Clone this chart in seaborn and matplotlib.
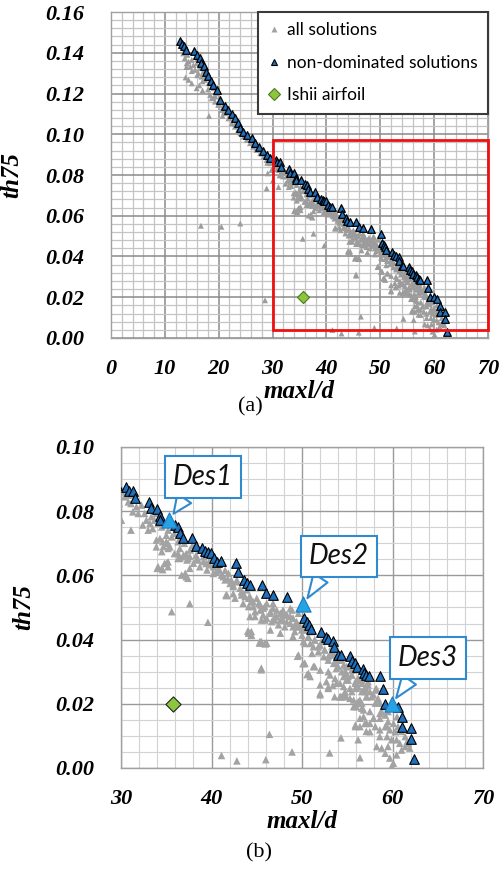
import matplotlib
matplotlib.use("Agg")
import matplotlib.pyplot as plt
import seaborn as sns
import pandas as pd
from matplotlib.lines import Line2D
from matplotlib.patches import Rectangle
from matplotlib.ticker import MultipleLocator, FormatStrFormatter
from matplotlib.font_manager import FontProperties

# ---------------- data ----------------
all_x = [
    13.4, 13.7, 14.05, 14.4, 15.0, 14.7, 15.3, 13.85, 15.6, 15.9, 16.2, 16.5, 16.8, 17.1, 17.45,
    17.8, 18.1, 18.4, 18.7, 18.2, 19.0, 19.3, 19.6, 19.9, 20.2, 20.5, 20.85, 21.2, 21.5, 21.8,
    22.1, 22.4, 22.7, 23.0, 23.3, 23.6, 24.0, 24.3, 24.6, 24.9, 25.2, 25.5, 25.8, 26.1, 26.4,
    26.7, 27.0, 27.35, 27.7, 28.0, 28.3, 28.6, 28.9, 29.2, 29.5, 29.8,
    14.4, 15.0, 15.9, 16.4, 17.0, 13.6, 14.2, 16.0, 17.5, 19.4, 20.7,
    14.0, 15.0, 16.0, 17.0, 18.0, 19.0, 20.0, 21.0, 22.0, 23.0, 24.0, 25.0, 26.0, 27.0, 28.0, 29.0,
    16.7, 20.5, 24.0, 28.6, 28.9, 29.1,
    # 30-44
    30.04, 30.1, 30.5, 30.4, 31.0, 30.8, 31.1, 31.1, 31.3, 31.7, 31.9, 32.25, 32.6, 32.4, 32.8,
    33.2, 33.0, 33.35, 33.7, 33.5, 33.9, 34.1, 34.5, 34.3, 33.9, 34.6, 35.0, 35.0, 35.2, 35.4,
    35.6, 35.9, 36.1, 36.3, 36.5, 35.9, 36.7, 37.0, 37.2, 37.4, 37.6, 37.9, 38.3, 38.5, 38.9,
    39.1, 39.4, 39.8, 40.2, 40.5, 40.9, 41.3, 41.5, 41.8, 42.2, 42.4, 42.75,
    33.9, 35.2, 34.5, 34.1, 34.8, 35.2, 36.3, 36.85, 37.2, 37.6, 36.7, 34.0, 34.6, 35.2,
    35.6, 37.6, 39.6, 41.6, 41.65, 42.4, 44.0, 44.4, 45.3, 45.95, 45.5,
    34.68, 35.2, 34.5, 35.0, 36.3, 36.5, 36.9, 37.3, 37.6, 38.0, 38.4, 38.7, 39.1, 39.5, 39.8,
    40.2, 40.75, 41.1, 41.5, 41.86, 42.05, 42.4, 42.8, 43.15, 43.5, 43.9, 44.25, 44.6, 45.0, 45.4,
    45.7, 46.1, 46.5, 46.8, 47.2, 47.6, 47.9, 48.3, 48.7, 49.0, 49.4,
    37.4, 37.1, 41.7, 42.6, 43.3, 44.1, 44.8, 45.4, 45.9, 44.25, 44.4, 46.5, 47.0, 47.6, 44.1,
    45.5, 46.1, 49.0,
    # 43-57
    43.3, 43.7, 43.5, 44.1, 44.4, 44.6, 44.8, 45.2, 45.4, 45.7, 45.5, 45.9, 46.1, 46.5, 46.8,
    46.65, 47.0, 47.2, 47.4, 47.6, 47.9, 48.1, 48.3, 48.7, 48.9, 49.0, 49.2, 49.4, 49.8, 50.0,
    50.15, 50.3, 50.7, 50.9, 51.25, 51.4, 51.8, 52.0, 52.4, 52.5, 52.9, 53.1, 53.5, 53.8, 54.0,
    54.4, 54.6, 54.9, 55.1, 55.5, 55.9, 56.0, 56.4, 56.6, 57.0, 57.15,
    44.1, 44.4, 45.35, 45.9, 45.5, 49.6, 50.3, 50.7, 51.4, 52.0, 52.9, 53.1, 53.6, 54.2, 54.75,
    55.7, 56.0, 56.6, 53.8, 54.6, 55.3, 49.5, 50.1, 50.55, 52.0, 52.9, 53.4,
    47.9, 48.3, 48.7, 49.0, 49.6, 49.4, 49.96, 50.5, 50.7, 51.1, 51.4, 51.8, 52.2, 52.5, 52.9,
    53.3, 53.65, 54.0, 54.4, 54.75, 55.1, 55.5, 55.9, 56.2, 56.6, 57.0, 57.3, 57.7, 58.1, 58.4,
    50.3, 51.25, 52.0, 52.7, 52.0, 52.9, 53.65, 54.2, 54.9, 54.4, 55.5, 56.0, 56.8, 56.4, 55.9,
    57.15, 57.5, 57.9, 58.6, 59.4, 60.3, 50.3, 51.1, 50.9, 54.9, 56.4,
    # 53-62
    53.3, 53.6, 54.2, 54.6, 55.1, 54.9, 55.5, 55.85, 56.2, 56.6, 56.0, 57.0, 57.3, 57.5, 57.9,
    57.1, 58.2, 58.4, 58.6, 58.1, 59.0, 58.8, 59.2, 59.5, 54.2, 54.75, 55.3, 55.7, 56.2, 56.6,
    56.8, 57.5, 55.9, 56.4, 56.95, 57.5, 57.9, 58.1, 58.6, 59.2, 59.5, 59.7, 60.1, 60.5, 60.6,
    61.0, 61.4, 61.6, 60.8, 60.45, 59.9, 59.4, 58.6, 58.25, 58.8, 59.2, 59.5, 59.7, 60.1, 59.9,
    60.45, 61.0, 61.4, 61.9, 61.75, 58.6, 57.1, 56.2,
    # bottom outliers
    41.1, 42.8, 46.0, 46.4, 48.9, 53.05, 54.3, 56.4,
]
all_y = [
    0.1397, 0.1373, 0.1348, 0.1357, 0.1365, 0.1332, 0.1340, 0.1279, 0.1316, 0.1348, 0.1300, 0.1324, 0.1283, 0.1307, 0.1267,
    0.1291, 0.1250, 0.1193, 0.1177, 0.1090, 0.1226, 0.1160, 0.1201, 0.1144, 0.1168, 0.1119, 0.1144, 0.1103, 0.1119, 0.1078,
    0.1095, 0.1054, 0.1070, 0.1037, 0.1054, 0.1021, 0.1005, 0.1029, 0.0988, 0.1005, 0.0972, 0.0988, 0.0956, 0.0972, 0.0939,
    0.0948, 0.0923, 0.0931, 0.0907, 0.0915, 0.0890, 0.0898, 0.0874, 0.0882, 0.0858, 0.0825,
    0.1267, 0.1250, 0.1226, 0.1240, 0.1215, 0.1410, 0.1390, 0.1370, 0.1320, 0.1185, 0.1090,
    0.1330, 0.1310, 0.1290, 0.1260, 0.1220, 0.1180, 0.1150, 0.1110, 0.1080, 0.1050, 0.1020, 0.0990, 0.0960, 0.0935, 0.0905, 0.0860,
    0.0551, 0.0546, 0.0562, 0.0185, 0.0734, 0.0808,
    # 30-44
    0.0772, 0.0866, 0.0861, 0.0845, 0.0850, 0.0829, 0.0824, 0.0741, 0.0798, 0.0814, 0.0793, 0.0819, 0.0793, 0.0757, 0.0772,
    0.0762, 0.0741, 0.0783, 0.0772, 0.0746, 0.0793, 0.0762, 0.0751, 0.0715, 0.0710, 0.0705, 0.0725, 0.0705, 0.0741, 0.0689,
    0.0720, 0.0731, 0.0746, 0.0705, 0.0684, 0.0668, 0.0720, 0.0700, 0.0668, 0.0653, 0.0679, 0.0694, 0.0663, 0.0648, 0.0684,
    0.0658, 0.0637, 0.0648, 0.0627, 0.0611, 0.0616, 0.0596, 0.0616, 0.0590, 0.0585, 0.0570, 0.0580,
    0.0689, 0.0684, 0.0674, 0.0627, 0.0637, 0.0642, 0.0653, 0.0658, 0.0596, 0.0622, 0.0601, 0.0622, 0.0618, 0.0627,
    0.0487, 0.0512, 0.0454, 0.0539, 0.0537, 0.0543, 0.0426, 0.0413, 0.0389, 0.0387, 0.0306,
    0.0690, 0.0700, 0.0622, 0.0638, 0.0669, 0.0653, 0.0664, 0.0648, 0.0659, 0.0638, 0.0653, 0.0627, 0.0643, 0.0617, 0.0633,
    0.0606, 0.0622, 0.0601, 0.0586, 0.0607, 0.0575, 0.0565, 0.0586, 0.0560, 0.0544, 0.0555, 0.0534, 0.0518, 0.0529, 0.0508,
    0.0498, 0.0513, 0.0487, 0.0498, 0.0472, 0.0482, 0.0461, 0.0477, 0.0451, 0.0467, 0.0440,
    0.0591, 0.0607, 0.0539, 0.0529, 0.0539, 0.0503, 0.0472, 0.0493, 0.0461, 0.0472, 0.0425, 0.0430, 0.0461, 0.0420, 0.0425,
    0.0394, 0.0389, 0.0410,
    # 43-57
    0.0549, 0.0534, 0.0513, 0.0529, 0.0518, 0.0503, 0.0487, 0.0513, 0.0492, 0.0477, 0.0461, 0.0503, 0.0467, 0.0482, 0.0513,
    0.0456, 0.0472, 0.0492, 0.0446, 0.0461, 0.0477, 0.0440, 0.0456, 0.0472, 0.0492, 0.0440, 0.0425, 0.0456, 0.0440, 0.0414,
    0.0394, 0.0430, 0.0409, 0.0388, 0.0378, 0.0399, 0.0362, 0.0383, 0.0347, 0.0368, 0.0336, 0.0352, 0.0326, 0.0311, 0.0336,
    0.0300, 0.0285, 0.0316, 0.0274, 0.0290, 0.0264, 0.0248, 0.0274, 0.0238, 0.0254, 0.0222,
    0.0420, 0.0414, 0.0394, 0.0388, 0.0311, 0.0352, 0.0326, 0.0295, 0.0316, 0.0233, 0.0248, 0.0290, 0.0222, 0.0222, 0.0238,
    0.0212, 0.0191, 0.0202, 0.0264, 0.0254, 0.0248, 0.0348, 0.0325, 0.0291, 0.0228, 0.0252, 0.0257,
    0.0492, 0.0477, 0.0497, 0.0466, 0.0482, 0.0451, 0.0430, 0.0446, 0.0409, 0.0425, 0.0399, 0.0378, 0.0394, 0.0368, 0.0347,
    0.0357, 0.0331, 0.0316, 0.0337, 0.0300, 0.0285, 0.0305, 0.0269, 0.0253, 0.0274, 0.0238, 0.0259, 0.0222, 0.0243, 0.0212,
    0.0326, 0.0316, 0.0305, 0.0269, 0.0259, 0.0300, 0.0279, 0.0264, 0.0222, 0.0222, 0.0238, 0.0201, 0.0181, 0.0155, 0.0129,
    0.0139, 0.0113, 0.0155, 0.0170, 0.0129, 0.0113, 0.0388, 0.0357, 0.0285, 0.0274, 0.0212,
    # 53-62
    0.0378, 0.0352, 0.0337, 0.0321, 0.0316, 0.0295, 0.0290, 0.0306, 0.0280, 0.0264, 0.0254, 0.0248, 0.0269, 0.0238, 0.0228,
    0.0222, 0.0248, 0.0217, 0.0202, 0.0202, 0.0191, 0.0176, 0.0165, 0.0176, 0.0222, 0.0228, 0.0217, 0.0191, 0.0207, 0.0186,
    0.0160, 0.0176, 0.0134, 0.0129, 0.0139, 0.0139, 0.0155, 0.0129, 0.0155, 0.0129, 0.0145, 0.0119, 0.0139, 0.0160, 0.0129,
    0.0114, 0.0098, 0.0082, 0.0077, 0.0088, 0.0088, 0.0098, 0.0098, 0.0067, 0.0062, 0.0046, 0.0067, 0.0031, 0.0015, 0.0005,
    0.0041, 0.0056, 0.0067, 0.0062, 0.0077, 0.0119, 0.0114, 0.0088,
    # bottom outliers
    0.0039, 0.0022, 0.0026, 0.0105, 0.0050, 0.0047, 0.0094, 0.0032,
]

nd_x = [
    12.9, 13.1, 13.5, 14.0, 15.5, 15.9, 16.5, 16.8, 17.3, 17.7, 18.1, 18.5, 19.0, 19.7, 20.3,
    21.1, 21.8, 22.4, 23.0, 23.5, 23.9, 24.5, 25.2, 26.1, 26.7, 27.5, 28.3, 28.9, 29.6,
    30.55, 30.85, 31.3, 31.5, 33.1, 33.3, 34.0, 34.3, 34.3, 35.3, 35.95, 36.3, 36.5, 36.9, 37.8,
    38.3, 39.0, 39.3, 39.6, 39.9, 40.3, 40.6, 41.0, 42.75, 42.9, 43.6, 43.9, 44.3, 45.55, 46.05,
    46.8, 48.3, 50.1, 50.25, 50.6, 50.8, 51.0, 52.1, 52.6, 52.9, 53.4, 53.5, 54.0, 54.3, 55.3,
    55.5, 55.8, 56.1, 56.7, 56.8, 57.1, 57.4, 58.6, 58.9, 59.2, 59.9, 60.6, 61.1, 61.1, 62.0,
    62.05, 62.35,
]
nd_y = [
    0.1457, 0.1444, 0.1431, 0.1415, 0.1407, 0.1390, 0.1374, 0.1349, 0.1333, 0.1308, 0.1284, 0.1262, 0.1243, 0.1218, 0.1169,
    0.1139, 0.1120, 0.1098, 0.1079, 0.1054, 0.1030, 0.1013, 0.0997, 0.0980, 0.0956, 0.0939, 0.0920, 0.0898, 0.0882,
    0.0874, 0.0862, 0.0862, 0.0841, 0.0830, 0.0810, 0.0808, 0.0784, 0.0774, 0.0774, 0.0756, 0.0751, 0.0732, 0.0716, 0.0716,
    0.0691, 0.0684, 0.0676, 0.0672, 0.0670, 0.0654, 0.0642, 0.0645, 0.0640, 0.0610, 0.0587, 0.0576, 0.0570, 0.0571, 0.0545,
    0.0538, 0.0534, 0.0511, 0.0467, 0.0455, 0.0446, 0.0432, 0.0423, 0.0408, 0.0401, 0.0397, 0.0377, 0.0353, 0.0351, 0.0348,
    0.0333, 0.0327, 0.0314, 0.0309, 0.0297, 0.0290, 0.0287, 0.0285, 0.0247, 0.0200, 0.0200, 0.0190, 0.0159, 0.0128, 0.0126,
    0.0091, 0.0028,
]

des_labels = ["Des1", "Des2", "Des3"]
des_x = [35.3, 50.1, 59.9]
des_y = [0.0774, 0.0511, 0.0200]

ishii_x = [35.7]
ishii_y = [0.0200]

zoom_x = [30, 70]
zoom_y = [0.004, 0.097]

legend_labels = ["all solutions", "non-dominated solutions", "Ishii airfoil"]

# ---------------- style ----------------
GRAY = "#a3a3a3"
ND_FILL = "#1f70bd"
DES_FILL = "#27a2e4"
DES_EDGE = "#1b7fc4"
GREEN = "#8cc63f"
CALL_EDGE = "#2f8ad0"

plt.rcParams["font.family"] = ["Liberation Serif", "DejaVu Serif"]
plt.rcParams["font.style"] = "italic"
plt.rcParams["font.weight"] = "bold"
plt.rcParams["axes.labelweight"] = "bold"

df_all = pd.DataFrame({"x": all_x, "y": all_y})
df_nd = pd.DataFrame({"x": nd_x, "y": nd_y})
df_des = pd.DataFrame({"x": des_x, "y": des_y, "label": des_labels})
df_ishii = pd.DataFrame({"x": ishii_x, "y": ishii_y})

fig = plt.figure(figsize=(5.03, 8.72), dpi=100)
ax_a = fig.add_axes([0.2207, 0.6124, 0.7495, 0.3738])
ax_b = fig.add_axes([0.2406, 0.1193, 0.7197, 0.3681])


def style_axes(ax, xlim, ylim, yminor, major_c, minor_c, major_lw, minor_lw, ylx):
    ax.set_xlim(*xlim)
    ax.set_ylim(*ylim)
    ax.xaxis.set_major_locator(MultipleLocator(10))
    ax.xaxis.set_minor_locator(MultipleLocator(2))
    ax.yaxis.set_major_locator(MultipleLocator(0.02))
    ax.yaxis.set_minor_locator(MultipleLocator(yminor))
    ax.yaxis.set_major_formatter(FormatStrFormatter("%.2f"))
    ax.xaxis.set_major_formatter(FormatStrFormatter("%d"))
    ax.set_axisbelow(True)
    ax.grid(which="minor", color=minor_c, lw=minor_lw)
    ax.grid(which="major", color=major_c, lw=major_lw)
    ax.tick_params(which="both", length=0)
    ax.tick_params(axis="x", pad=15, labelsize=16)
    ax.tick_params(axis="y", pad=19, labelsize=16)
    for s in ax.spines.values():
        s.set_color("#a0a0a0")
        s.set_linewidth(1.0)
    ax.set_xlabel("maxl/d", fontsize=18, labelpad=1)
    ax.set_ylabel("th75", fontsize=18)
    ax.yaxis.set_label_coords(ylx, 0.5)


# ---- panel (a)
style_axes(ax_a, (0, 70), (0, 0.16), 0.004, "#8a8a8a", "#c4c4c4", 1.1, 0.9, -0.233)
sns.scatterplot(data=df_all, x="x", y="y", ax=ax_a, marker="^", s=18, color="#9c9c9c",
                edgecolor="none", linewidth=0, legend=False, zorder=3)
sns.scatterplot(data=df_nd, x="x", y="y", ax=ax_a, marker="^", s=30, color=ND_FILL,
                edgecolor="black", linewidth=0.9, legend=False, zorder=4)
sns.scatterplot(data=df_ishii, x="x", y="y", ax=ax_a, marker="D", s=38, color=GREEN,
                edgecolor="#4d7a1e", linewidth=0.8, legend=False, zorder=5)
ax_a.add_patch(Rectangle((zoom_x[0], zoom_y[0]), zoom_x[1] - zoom_x[0], zoom_y[1] - zoom_y[0],
                         fill=False, edgecolor="#ee1111", lw=2.0, zorder=6, clip_on=False))

handles = [
    Line2D([], [], ls="none", marker="^", ms=4, color=GRAY, mec="none"),
    Line2D([], [], ls="none", marker="^", ms=5, color=ND_FILL, mec="black", mew=0.8),
    Line2D([], [], ls="none", marker="D", ms=6, color=GREEN, mec="#4d7a1e", mew=0.8),
]
leg = ax_a.legend(handles, legend_labels, loc="upper right", bbox_to_anchor=(1.0, 1.0),
                  borderaxespad=0, frameon=True, fancybox=False, handlelength=0.6,
                  handletextpad=0.45, labelspacing=0.95, borderpad=0.6,
                  prop=FontProperties(family="Lato", style="normal", weight="normal", size=12.5))
leg.get_frame().set_edgecolor("#3a3a3a")
leg.get_frame().set_linewidth(1.5)
leg.get_frame().set_alpha(1)
leg.set_zorder(10)

# ---- panel (b)
style_axes(ax_b, (30, 70), (0, 0.10), 0.005, "#9a9a9a", "#d2d2d2", 1.0, 0.8, -0.238)
sns.scatterplot(data=df_all, x="x", y="y", ax=ax_b, marker="^", s=30, color=GRAY,
                edgecolor="none", linewidth=0, legend=False, zorder=3)
sns.scatterplot(data=df_nd, x="x", y="y", ax=ax_b, marker="^", s=48, color=ND_FILL,
                edgecolor="black", linewidth=0.8, legend=False, zorder=4)
sns.scatterplot(data=df_des, x="x", y="y", ax=ax_b, marker="^", s=120, color=DES_FILL,
                edgecolor=DES_EDGE, linewidth=0.8, legend=False, zorder=5)
sns.scatterplot(data=df_ishii, x="x", y="y", ax=ax_b, marker="D", s=60, color=GREEN,
                edgecolor="#222222", linewidth=0.8, legend=False, zorder=5)

callout_offsets = [(3.75, 0.0133), (3.95, 0.0148), (4.0, 0.0142)]
for lab, px, py, (dx, dy) in zip(des_labels, des_x, des_y, callout_offsets):
    ax_b.annotate(
        lab, xy=(px + 0.5, py + 0.0018), xytext=(px + dx, py + dy),
        ha="center", va="center", fontsize=20, fontstyle="italic", fontweight="normal",
        family=["Lato", "DejaVu Sans"], color="#111111", zorder=8,
        bbox=dict(boxstyle="square,pad=0.28", fc="white", ec=CALL_EDGE, lw=1.5),
        arrowprops=dict(arrowstyle="wedge,tail_width=0.6,shrink_factor=0.5", fc="white",
                        ec=CALL_EDGE, lw=1.5, relpos=(0.29, 0.0), shrinkA=0, shrinkB=0),
    )

fig.text(250 / 503, 1 - 407 / 872, "(a)", ha="center", va="center", fontsize=16,
         family="Liberation Serif", style="normal", weight="normal")
fig.text(259 / 503, 1 - 853 / 872, "(b)", ha="center", va="center", fontsize=16,
         family="Liberation Serif", style="normal", weight="normal")

fig.savefig("out.png", dpi=100)
